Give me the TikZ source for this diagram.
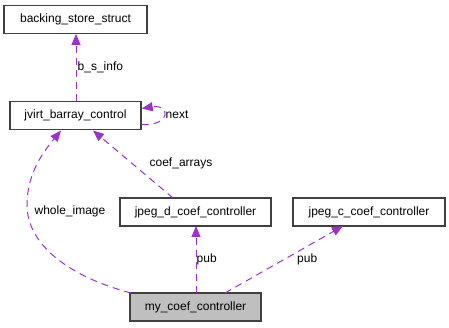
\documentclass[tikz,border=0pt]{standalone}
\usepackage{fontspec}
\setmainfont{Liberation Sans}
\usetikzlibrary{arrows.meta}
\definecolor{edgec}{HTML}{9A32CD}
\definecolor{boxline}{HTML}{404040}
\definecolor{boxfill}{HTML}{BFBFBF}
\begin{document}
\begin{tikzpicture}[x=1pt,y=-1pt,
  cls/.style={draw=boxline,line width=1.4pt,fill=white,inner sep=0pt,
    minimum height=28pt,font=\fontsize{12}{13}\selectfont},
  rel/.style={draw=edgec,line width=1pt,dash pattern=on 7pt off 5pt,
    -{Triangle[length=11pt,width=9pt,fill=edgec]}},
  lbl/.style={inner sep=0pt,font=\fontsize{12}{13}\selectfont}]
\useasboundingbox (0,0) rectangle (449,328);
% classes
\node[cls,minimum width=143pt] (bss) at (75.5,19.5) {backing\_store\_struct};
\node[cls,minimum width=131pt] (jbc) at (75.5,115.5) {jvirt\_barray\_control};
\node[cls,minimum width=151pt] (jdc) at (195.5,212) {jpeg\_d\_coef\_controller};
\node[cls,minimum width=152pt] (jcc) at (369,212) {jpeg\_c\_coef\_controller};
\node[cls,minimum width=131pt,fill=boxfill] (mcc) at (195.5,307) {my\_coef\_controller};
% points where edges leave or enter boxes
\coordinate (bsOut) at (76,101);
\coordinate (bsIn) at (76,34);
\coordinate (loopA) at ([yshift=-9pt]jbc.east);
\coordinate (loopB) at ([yshift=7pt]jbc.east);
\coordinate (cfIn) at (93,130.5);
\coordinate (cfOut) at (173,198);
\coordinate (wiIn) at (61,130.5);
\coordinate (wiOut) at (131,293);
\coordinate (pdOut) at (196,293);
\coordinate (pdIn) at (196,226);
\coordinate (pcOut) at (225,293);
\coordinate (pcIn) at (343,226);
% relations
\draw[rel] (bsOut) -- (bsIn);
\draw[rel] (loopA) .. controls (172,126) and (170,104) .. (loopB);
\draw[rel] (cfOut) -- (cfIn);
\draw[rel] (wiOut) .. controls (70,277) and (27,245) .. (27,205)
  .. controls (27,172) and (45,150) .. (wiIn);
\draw[rel] (pdOut) -- (pdIn);
\draw[rel] (pcOut) -- (pcIn);
% labels
\node[lbl,anchor=west] (l1) at (77.5,67) {b\_s\_info};
\node[lbl,anchor=west] (l2) at (165.5,115) {next};
\node[lbl] (l3) at (181,163) {coef\_arrays};
\node[lbl] (l4) at (70,211) {whole\_image};
\node[lbl,anchor=west] (l5) at (196.5,259) {pub};
\node[lbl,anchor=west] (l6) at (297,259) {pub};
\end{tikzpicture}
\end{document}
